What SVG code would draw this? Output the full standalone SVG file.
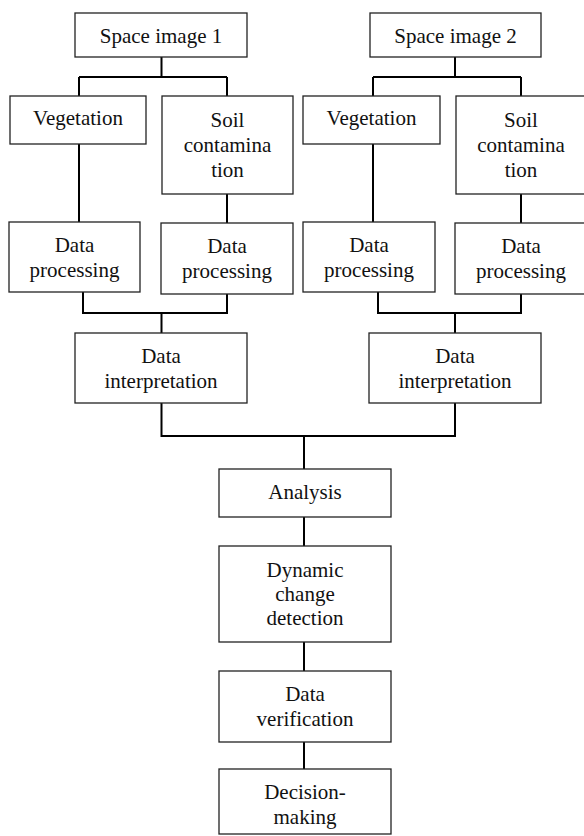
<svg xmlns="http://www.w3.org/2000/svg" width="584" height="836" viewBox="0 0 584 836">
<style>
rect{fill:#fff;stroke:#222;stroke-width:1.3}
text{font-size:21px;fill:#111;text-anchor:middle}
#connectors path{fill:none;stroke:#000;stroke-width:2}
</style>
<rect x="0" y="0" width="584" height="836" style="stroke:none"/>
<g id="connectors">
<path d="M161.5 57V77M79 77H227M79 77V96M227 77V96"/>
<path d="M455 57V77M373 77H521M373 77V96M521 77V96"/>
<path d="M79 144V222M227 194V223"/>
<path d="M373 144V222M521 194V223"/>
<path d="M83 292V313H227V294M161.5 313V333"/>
<path d="M378 292V313H521V294M455 313V333"/>
<path d="M161.5 403V436H455V403M304 436V469"/>
<path d="M304 517V546M304 642V671M304 742V769"/>
</g>
<g font-family="Liberation Serif, DejaVu Serif, serif">
<g id="space1"><rect x="75" y="13" width="172" height="44"/><text x="161" y="43">Space image 1</text></g>
<g id="space2"><rect x="370" y="13" width="171" height="44"/><text x="455.5" y="43">Space image 2</text></g>
<g id="veg1"><rect x="10" y="96" width="136" height="48"/><text x="78" y="125">Vegetation</text></g>
<g id="soil1"><rect x="162" y="96" width="131" height="98"/><text x="227.5" y="127">Soil</text><text x="227.5" y="152">contamina</text><text x="227.5" y="177">tion</text></g>
<g id="veg2"><rect x="303" y="96" width="137" height="48"/><text x="371.5" y="125">Vegetation</text></g>
<g id="soil2"><rect x="456" y="96" width="130" height="98"/><text x="521" y="127">Soil</text><text x="521" y="152">contamina</text><text x="521" y="177">tion</text></g>
<g id="dp1"><rect x="9" y="222" width="131" height="70"/><text x="74.5" y="252">Data</text><text x="74.5" y="277">processing</text></g>
<g id="dp2"><rect x="161" y="223" width="132" height="71"/><text x="227" y="253">Data</text><text x="227" y="278">processing</text></g>
<g id="dp3"><rect x="303" y="222" width="132" height="70"/><text x="369" y="252">Data</text><text x="369" y="277">processing</text></g>
<g id="dp4"><rect x="455" y="223" width="132" height="71"/><text x="521" y="253">Data</text><text x="521" y="278">processing</text></g>
<g id="di1"><rect x="75" y="333" width="172" height="70"/><text x="161" y="363">Data</text><text x="161" y="388">interpretation</text></g>
<g id="di2"><rect x="369" y="333" width="172" height="70"/><text x="455" y="363">Data</text><text x="455" y="388">interpretation</text></g>
<g id="analysis"><rect x="219" y="469" width="172" height="48"/><text x="305" y="499">Analysis</text></g>
<g id="dynamic"><rect x="219" y="546" width="172" height="96"/><text x="305" y="577">Dynamic</text><text x="305" y="601">change</text><text x="305" y="625">detection</text></g>
<g id="verification"><rect x="219" y="671" width="172" height="71"/><text x="305" y="701">Data</text><text x="305" y="726">verification</text></g>
<g id="decision"><rect x="219" y="769" width="172" height="65"/><text x="305" y="799">Decision-</text><text x="305" y="824">making</text></g>
</g>
</svg>
